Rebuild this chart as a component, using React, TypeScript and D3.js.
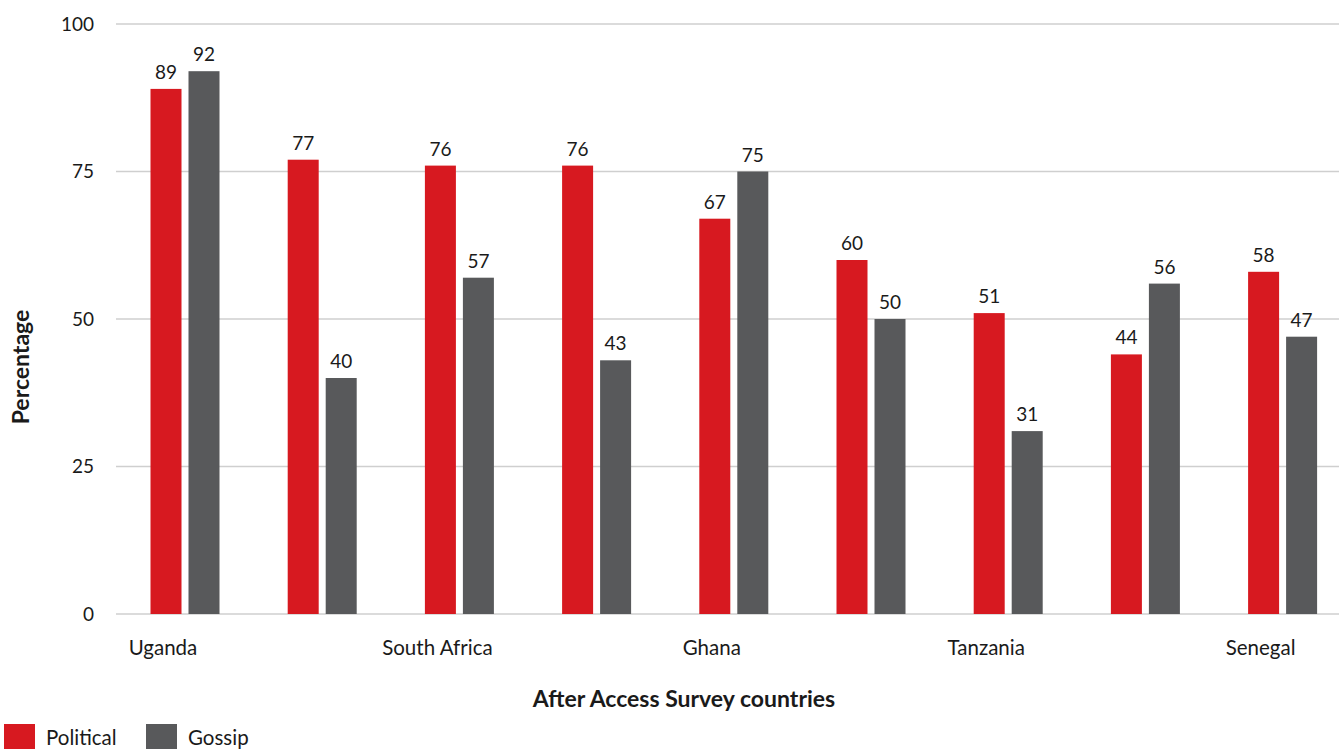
import React from "react";
import * as d3 from "d3";

// Country categories (unlabelled slots are skipped on the axis)
const categories = ["Uganda", "", "South Africa", "", "Ghana", "", "Tanzania", "", "Senegal"];
const political = [89, 77, 76, 76, 67, 60, 51, 44, 58];
const gossip = [92, 40, 57, 43, 75, 50, 31, 56, 47];
const yTicks = [0, 25, 50, 75, 100];
const seriesNames = ["Political", "Gossip"];
const seriesColors = ["#D71920", "#58595B"];

const W = 1339;
const H = 749;
const FONT = "'Source Sans Pro', Lato, 'Noto Sans', sans-serif";

export default function App() {
  const x = d3
    .scaleBand<number>()
    .domain(d3.range(categories.length))
    .range([116.4, 1351.2]);
  const y = d3.scaleLinear().domain([0, 100]).range([614, 24]);

  const barW = 31;
  const offset = 19;
  const series = [political, gossip];

  return (
    <svg
      width={W}
      height={H}
      style={{ position: "absolute", left: 0, top: 0, fontFamily: FONT }}
    >
      {/* gridlines */}
      {yTicks.map((t) => (
        <g key={t}>
          <line
            x1={116}
            x2={W}
            y1={y(t)}
            y2={y(t)}
            stroke="#cfcfcf"
            strokeWidth={1.5}
          />
          <text
            x={94}
            y={y(t)}
            dy="0.35em"
            textAnchor="end"
            fontSize={19}
            fill="#1a1a1a"
          >
            {t}
          </text>
        </g>
      ))}

      {/* bars and value labels */}
      {series.map((vals, s) =>
        vals.map((v, i) => {
          const cx = x(i)! + x.bandwidth() / 2 + (s === 0 ? -offset : offset);
          return (
            <g key={`${s}-${i}`}>
              <rect
                x={cx - barW / 2}
                y={y(v)}
                width={barW}
                height={y(0) - y(v)}
                fill={seriesColors[s]}
              />
              <text
                x={cx}
                y={y(v) - 10}
                textAnchor="middle"
                fontSize={19}
                fill="#1a1a1a"
              >
                {v}
              </text>
            </g>
          );
        })
      )}

      {/* category labels */}
      {categories.map((c, i) =>
        c ? (
          <text
            key={c}
            x={x(i)! + x.bandwidth() / 2 - 22}
            y={655}
            textAnchor="middle"
            fontSize={20.5}
            fill="#1a1a1a"
          >
            {c}
          </text>
        ) : null
      )}

      {/* axis titles */}
      <text
        transform={`translate(29,367) rotate(-90)`}
        textAnchor="middle"
        fontSize={23}
        fontWeight="bold"
        fill="#1a1a1a"
      >
        Percentage
      </text>
      <text
        x={684}
        y={707}
        textAnchor="middle"
        fontSize={23}
        fontWeight="bold"
        fill="#1a1a1a"
      >
        After Access Survey countries
      </text>

      {/* legend */}
      {seriesNames.map((n, i) => (
        <g key={n} transform={`translate(${4 + i * 142},724)`}>
          <rect width={31} height={26} fill={seriesColors[i]} />
          <text x={42} y={21} fontSize={20.5} fill="#1a1a1a">
            {n}
          </text>
        </g>
      ))}
    </svg>
  );
}
